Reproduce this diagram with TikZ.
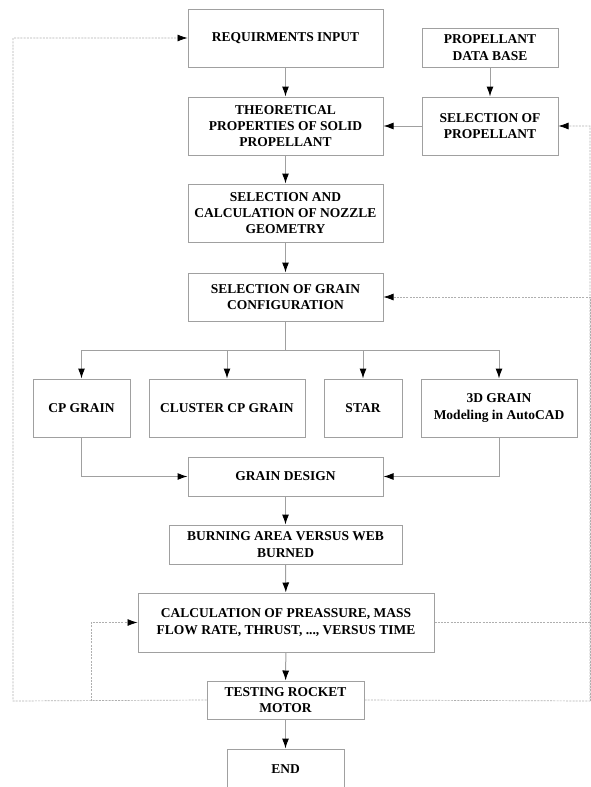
\documentclass[tikz,border=0pt]{standalone}
\usepackage{fontspec}
\setmainfont{Liberation Serif}
\usetikzlibrary{arrows.meta}
\definecolor{boxgray}{RGB}{160, 160, 160}
\definecolor{loopgray}{RGB}{175, 175, 175}
\tikzset{
    stepbox/.style={draw=boxgray, line width=1pt, align=center, inner sep=0pt,
                    font=\fontsize{13.5}{16.3}\selectfont\bfseries},
    flow/.style={draw=boxgray, line width=1pt, -{Latex[length=10pt, width=7pt, color=black]}},
    link/.style={draw=boxgray, line width=1pt},
    loopline/.style={draw=loopgray, line width=0.7pt, dash pattern=on 2pt off 1.2pt},
    looparrow/.style={loopline, -{Latex[length=10pt, width=7pt, color=black]}}
}
\begin{document}
\begin{tikzpicture}[x=1pt, y=-1pt]
        \useasboundingbox (0,0) rectangle (590,787);
            \node[stepbox, minimum width=195pt, minimum height=58pt] (req)     at (285.5, 38.0) {REQUIRMENTS INPUT};
            \node[stepbox, minimum width=136pt, minimum height=39pt] (pdb)     at (490.0, 47.5) {PROPELLANT\\DATA BASE};
            \node[stepbox, minimum width=195pt, minimum height=58pt] (theo)    at (285.5,126.0) {THEORETICAL\\PROPERTIES OF SOLID\\PROPELLANT};
            \node[stepbox, minimum width=136pt, minimum height=58pt] (selp)    at (490.0,126.0) {SELECTION OF\\PROPELLANT};
            \node[stepbox, minimum width=195pt, minimum height=58pt] (nozzle)  at (285.5,213.0) {SELECTION AND\\CALCULATION OF NOZZLE\\GEOMETRY};
            \node[stepbox, minimum width=195pt, minimum height=48pt] (config)  at (285.5,297.0) {SELECTION OF GRAIN\\CONFIGURATION};
            \node[stepbox, minimum width= 97pt, minimum height=58pt] (cp)      at ( 81.5,408.0) {CP GRAIN};
            \node[stepbox, minimum width=156pt, minimum height=58pt] (cluster) at (227.0,408.0) {CLUSTER CP GRAIN};
            \node[stepbox, minimum width= 78pt, minimum height=58pt] (star)    at (363.0,408.0) {STAR};
            \node[stepbox, minimum width=156pt, minimum height=58pt] (grain3d) at (499.0,408.0) {3D GRAIN\\Modeling in AutoCAD};
            \node[stepbox, minimum width=195pt, minimum height=39pt] (design)  at (285.5,476.5) {GRAIN DESIGN};
            \node[stepbox, minimum width=233pt, minimum height=39pt] (burn)    at (285.5,544.5) {BURNING AREA VERSUS WEB\\BURNED};
            \node[stepbox, minimum width=296pt, minimum height=59pt] (calc)    at (286.0,622.5) {CALCULATION OF PREASSURE, MASS\\FLOW RATE, THRUST, ..., VERSUS TIME};
            \node[stepbox, minimum width=157pt, minimum height=38pt] (test)    at (285.5,700.0) {TESTING ROCKET\\MOTOR};
            \node[stepbox, minimum width=117pt, minimum height=40pt] (finish)  at (285.5,769.0) {END};
            \coordinate (split)     at (285.5,350.0);
            \coordinate (farleft)   at ( 13.0,701.0);
            \coordinate (innerleft) at ( 91.0,701.0);
            \coordinate (farright)  at (590.0,701.0);
        % main flow
            \draw[flow] (req)  -- (theo);
            \draw[flow] (pdb)  -- (selp);
            \draw[flow] (selp) -- (theo);
            \draw[flow] (theo) -- (nozzle);
            \draw[flow] (nozzle) -- (config);
            \draw[link] (config) -- (split);
            \foreach \grain in {cp, cluster, star, grain3d}
                \draw[flow] (split) -| (\grain.north);
            \draw[flow] (cp.south)      |- (design.west);
            \draw[flow] (grain3d.south) |- (design.east);
            \draw[flow] (design) -- (burn);
            \draw[flow] (burn)   -- (calc);
            \draw[flow] (calc)   -- (test);
            \draw[flow] (test)   -- (finish);
        % feedback loops
            \draw[looparrow] (test.west) -- (farleft) |- (req.west);
            \draw[looparrow] (innerleft) |- (calc.west);
            \draw[looparrow] (test.east) -- (farright) |- (selp.east);
            \draw[looparrow] (farright)  |- (config.east);
            \draw[loopline]  (calc.east) -- (calc.east -| farright);
        \end{tikzpicture}
\end{document}
